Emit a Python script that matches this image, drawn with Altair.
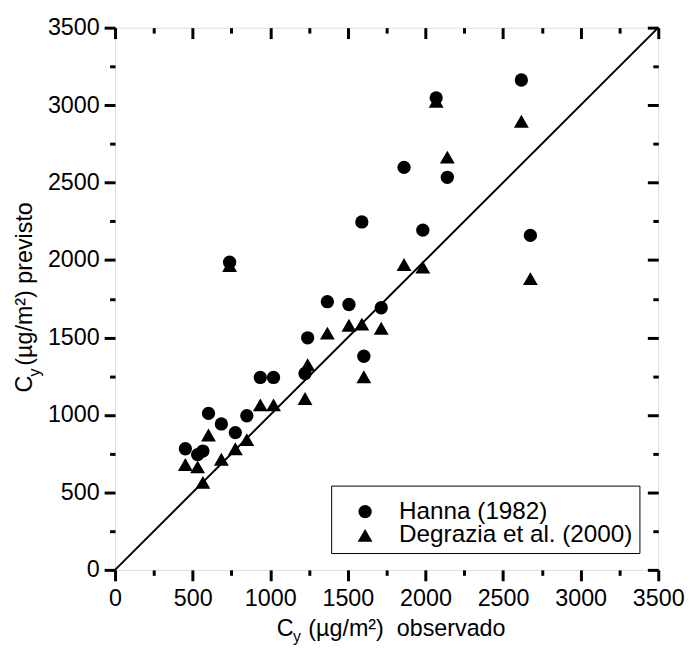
import altair as alt
import pandas as pd

# ---- data ----
obs = [453, 532, 566, 602, 685, 738, 775, 849, 936, 1021, 1224, 1241, 1368,
       1507, 1590, 1603, 1715, 1862, 1983, 2069, 2141, 2618, 2676]
hanna = [782, 744, 767, 1010, 942, 1986, 886, 995, 1242, 1242, 1268, 1498, 1731,
         1713, 2246, 1379, 1692, 2598, 2193, 3047, 2534, 3162, 2159]
degrazia = [680, 665, 565, 871, 714, 1965, 782, 841, 1065, 1065, 1106, 1325, 1528,
            1579, 1586, 1247, 1560, 1971, 1954, 3025, 2664, 2896, 1880]
series = ["Hanna (1982)", "Degrazia et al. (2000)"]
major_ticks = [0, 500, 1000, 1500, 2000, 2500, 3000, 3500]
minor_ticks = [250, 750, 1250, 1750, 2250, 2750, 3250]
line_x = [0, 3500]
line_y = [0, 3500]

rows = []
for o, h in zip(obs, hanna):
    rows.append({"obs": o, "prev": h, "series": series[0]})
for o, d in zip(obs, degrazia):
    rows.append({"obs": o, "prev": d, "series": series[1]})
df = pd.DataFrame(rows)
line_df = pd.DataFrame({"x": line_x, "y": line_y})
one = pd.DataFrame({"_": [0]})

W, H = 548, 547
FONT = "Liberation Sans"
xs = alt.Scale(domain=[0, 3500], nice=False, zero=False)
ys = alt.Scale(domain=[0, 3500], nice=False, zero=False)


def tick_axis(orient, values, size, offset=0):
    return alt.Axis(orient=orient, values=values, tickSize=size, tickWidth=3,
                    tickColor="black", domain=False, grid=False, labels=False,
                    title=None, offset=offset)


leg = alt.Legend(title=" ", titleFontSize=6, titlePadding=2,
                 orient="none", legendX=218, legendY=462,
                 strokeColor="black", fillColor="white", padding=6,
                 labelFontSize=24.5, labelFont=FONT, labelColor="black",
                 labelLimit=0,
                 symbolFillColor="black", symbolStrokeWidth=0,
                 rowPadding=-3, symbolOffset=16, labelOffset=22)

points = alt.Chart(df).mark_point(filled=True, opacity=1, strokeWidth=0).encode(
    x=alt.X("obs:Q", scale=xs, axis=alt.Axis(
        orient="bottom", values=major_ticks, format="d", tickSize=11, tickWidth=3,
        tickColor="black", domain=False, grid=False, labelFontSize=23.5,
        labelFont=FONT, labelPadding=6, labelColor="black", title=None,
        labelFlush=False, labelOverlap=False)),
    y=alt.Y("prev:Q", scale=ys, axis=alt.Axis(
        orient="left", values=major_ticks, format="d", tickSize=11, tickWidth=3,
        tickColor="black", domain=False, grid=False, labelFontSize=23.5,
        labelFont=FONT, labelPadding=5, labelColor="black", title=None,
        labelFlush=False, labelOverlap=False)),
    shape=alt.Shape("series:N", scale=alt.Scale(domain=series, range=["circle", "triangle-up"]), legend=leg),
    size=alt.Size("series:N", scale=alt.Scale(domain=series, range=[180, 225]), legend=leg),
    color=alt.value("black"),
)

diag = alt.Chart(line_df).mark_line(color="black", strokeWidth=2).encode(
    x=alt.X("x:Q", scale=xs, axis=None),
    y=alt.Y("y:Q", scale=ys, axis=None),
)

minor_bl = alt.Chart(line_df).mark_point(opacity=0).encode(
    x=alt.X("x:Q", scale=xs, axis=tick_axis("bottom", minor_ticks, 5.5)),
    y=alt.Y("y:Q", scale=ys, axis=tick_axis("left", minor_ticks, 5.5)),
)
major_tr = alt.Chart(line_df).mark_point(opacity=0).encode(
    x=alt.X("x:Q", scale=xs, axis=tick_axis("bottom", major_ticks, 11, -H)),
    y=alt.Y("y:Q", scale=ys, axis=tick_axis("left", major_ticks, 11, -W)),
)
minor_tr = alt.Chart(line_df).mark_point(opacity=0).encode(
    x=alt.X("x:Q", scale=xs, axis=tick_axis("bottom", minor_ticks, 5.5, -H)),
    y=alt.Y("y:Q", scale=ys, axis=tick_axis("left", minor_ticks, 5.5, -W)),
)


def txt(s, x, y, size=23.5, angle=0):
    kw = dict(align="left", baseline="alphabetic", font=FONT, fontSize=size,
              color="black")
    if angle:
        kw["angle"] = angle
    return alt.Chart(one).mark_text(**kw).encode(
        x=alt.value(x), y=alt.value(y), text=alt.value(s))


NB = "\u00a0"
titles = [
    txt("C", 163, 613.5),
    txt("y", 179.5, 620, size=16),
    txt("(µg/m²)" + NB + NB + "observado", 195, 613.5),
    txt("C", -84, 368, angle=270),
    txt("y", -76, 352, size=16, angle=270),
    txt("(µg/m²)" + NB + "previsto", -84, 341, angle=270),
]

chart = alt.layer(minor_bl, major_tr, minor_tr, diag, points, *titles).resolve_axis(
    x="independent", y="independent"
).properties(
    width=W, height=H,
    autosize=alt.AutoSizeParams(type="none"),
    padding={"left": 108, "top": 17, "right": 30, "bottom": 78},
).configure_view(
    stroke="black", strokeWidth=3.5
).configure(background="white")

chart.save("out.html", embed_options={"renderer": "svg", "actions": False})
